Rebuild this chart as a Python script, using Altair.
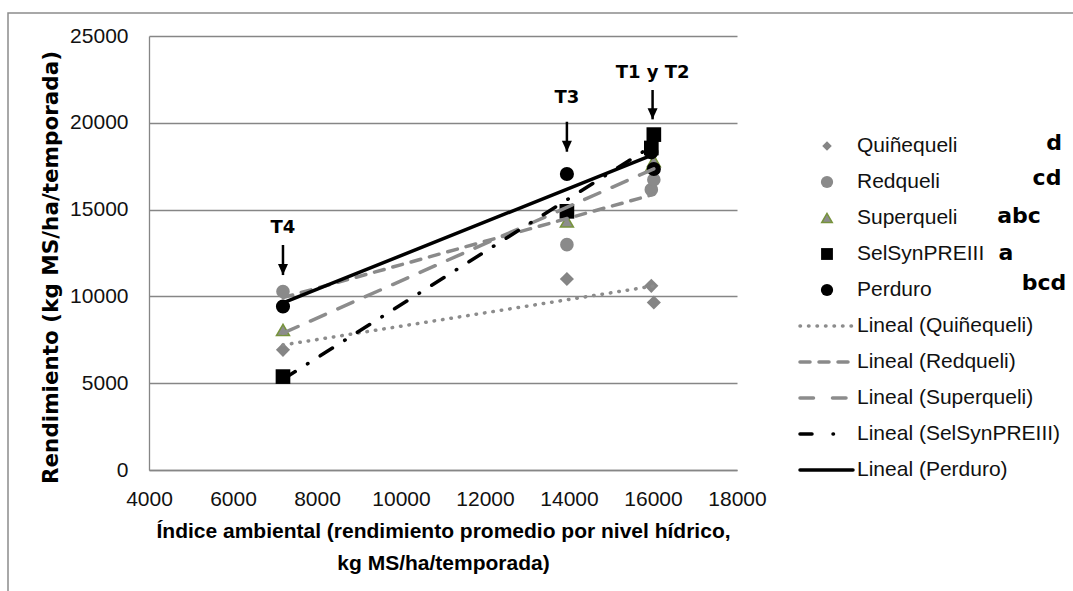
import altair as alt
import pandas as pd

# Environmental index (mean yield per water level, kg MS/ha/season)
environments = ["T4", "T3", "T1", "T2"]
env_index = [7190, 13950, 15960, 16020]

varieties = ["Quiñequeli", "Redqueli", "Superqueli", "SelSynPREIII", "Perduro"]
group_letters = ["d", "cd", "abc", "a", "bcd"]

# Yield of each variety in T4, T3, T1, T2 (kg MS/ha/season)
yield_quinequeli = [6920, 11000, 10610, 9650]
yield_redqueli = [10280, 12980, 16150, 16720]
yield_superqueli = [8070, 14320, 17460, 17800]
yield_selsyn = [5380, 14900, 18550, 19320]
yield_perduro = [9420, 17050, 18300, 17340]

# Environment callouts: label, x, label baseline, arrow top, arrow tip (data units)
callout_labels = ["T4", "T3", "T1 y T2"]
callout_x = [7190, 13950, 15990]
callout_text_y = [13670, 21120, 22580]
callout_arrow_top = [12960, 20060, 21890]
callout_arrow_tip = [11230, 18335, 20200]

x_ticks = [4000, 6000, 8000, 10000, 12000, 14000, 16000, 18000]
y_ticks = [0, 5000, 10000, 15000, 20000, 25000]

series = [yield_quinequeli, yield_redqueli, yield_superqueli, yield_selsyn, yield_perduro]
rows = []
for v, ys in zip(varieties, series):
    for e, x, y in zip(environments, env_index, ys):
        rows.append({"variety": v, "env": e, "index": x, "yield": y})
df = pd.DataFrame(rows)

callout_text = pd.DataFrame({"label": callout_labels, "index": callout_x, "yield": callout_text_y})
callout_arrow = pd.DataFrame({"index": callout_x, "yield": callout_arrow_top, "tip": callout_arrow_tip})
callout_head = pd.DataFrame({"index": callout_x, "yield": callout_arrow_tip})

GRAY = "#868686"
W, H = 588, 434
PAD_L, PAD_T = 149, 36

# marker and trendline styles per variety
styles = {
    "Quiñequeli": dict(shape="diamond", fill="#858585", stroke=None, size=200, lsize=90,
                       line="#8c8c8c", dash=[0.5, 8], ldash=[0.5, 8]),
    "Redqueli": dict(shape="circle", fill="#8a8a8a", stroke=None, size=185, lsize=150,
                     line="#8a8a8a", dash=[10, 9], ldash=[10, 9]),
    "Superqueli": dict(shape="triangle-up", fill="#8c8c8c", stroke="#77933C", size=170, lsize=110,
                       line="#8c8c8c", dash=[16.5, 13.5], ldash=[13.5, 19]),
    "SelSynPREIII": dict(shape="square", fill="#000000", stroke=None, size=215, lsize=140,
                         line="#000000", dash=[14.5, 14.5, 0.5, 14.5], ldash=[12, 21, 0.5, 60]),
    "Perduro": dict(shape="circle", fill="#000000", stroke=None, size=200, lsize=150,
                    line="#000000", dash=None, ldash=None),
}

x_enc = alt.X(
    "index:Q",
    scale=alt.Scale(domain=[4000, 18000], nice=False, zero=False),
    axis=alt.Axis(
        values=x_ticks, format="d", grid=False, ticks=False, labelOverlap=False, labelFlush=False,
        domainColor=GRAY, domainWidth=1.3,
        labelFont="Liberation Sans", labelFontSize=21, labelColor="#111111", labelPadding=18,
        title=["Índice ambiental (rendimiento promedio por nivel hídrico,", "kg MS/ha/temporada)"],
        titleFont="Liberation Sans", titleFontWeight="bold", titleFontSize=21,
        titleLineHeight=32, titleColor="#000000",
        titleX=W / 2, titleY=67, titleAlign="center", titleBaseline="alphabetic",
    ),
)
y_enc = alt.Y(
    "yield:Q",
    scale=alt.Scale(domain=[0, 25000], nice=False),
    axis=alt.Axis(
        values=y_ticks, format="d", grid=True, gridColor=GRAY, gridWidth=1.3, ticks=False,
        labelOverlap=False, labelFlush=False, domainColor=GRAY, domainWidth=1.3,
        labelFont="Liberation Sans", labelFontSize=21, labelColor="#111111", labelPadding=21,
        title="Rendimiento (kg MS/ha/temporada)",
        titleFont="DejaVu Sans", titleFontWeight="bold", titleFontSize=21.5, titleColor="#000000",
        titleAngle=270, titleX=-98, titleY=231, titleAlign="center", titleBaseline="middle",
    ),
)

one = pd.DataFrame({"k": [0]})
layers = []

# observed yields
for v in varieties:
    s = styles[v]
    kw = dict(shape=s["shape"], filled=True, fill=s["fill"], size=s["size"], opacity=1)
    if s["stroke"]:
        kw.update(stroke=s["stroke"], strokeWidth=1.5)
    else:
        kw.update(strokeWidth=0)
    layers.append(
        alt.Chart(df).transform_filter(alt.datum.variety == v).mark_point(**kw).encode(x=x_enc, y=y_enc)
    )

# linear trendlines
for v in varieties:
    s = styles[v]
    kw = dict(color=s["line"], strokeWidth=3.5, strokeCap="round")
    if s["dash"]:
        kw["strokeDash"] = s["dash"]
    layers.append(
        alt.Chart(df)
        .transform_filter(alt.datum.variety == v)
        .transform_regression("index", "yield", method="linear")
        .mark_line(**kw)
        .encode(x=x_enc, y=y_enc)
    )

# environment callouts with arrows
layers.append(
    alt.Chart(callout_text).mark_text(
        font="DejaVu Sans", fontWeight="bold", fontSize=18, align="center", baseline="alphabetic", color="#000"
    ).encode(x=x_enc, y=y_enc, text="label:N")
)
layers.append(
    alt.Chart(callout_arrow).mark_rule(color="#000", strokeWidth=2.5).encode(x=x_enc, y=y_enc, y2="tip:Q")
)
layers.append(
    alt.Chart(callout_head).mark_point(
        shape="M-1,-2.2L1,-2.2L0,0Z", filled=True, color="#000", size=100, opacity=1
    ).encode(x=x_enc, y=y_enc)
)

# outer frame of the figure
layers.append(
    alt.Chart(one).mark_rect(fillOpacity=0, stroke="#8c8c8c", strokeWidth=1.5).encode(
        x=alt.value(8 - PAD_L), x2=alt.value(1100), y=alt.value(13 - PAD_T), y2=alt.value(620)
    )
)

# legend
LEG_SYM_X = 827 - PAD_L
LEG_TXT_X = 857 - PAD_L
LEG_LINE_X0, LEG_LINE_X1 = 800 - PAD_L, 853 - PAD_L
LEG_Y0, LEG_STEP = 146 - PAD_T, 36
letter_pos = [(1054, 150), (1047, 185), (1019, 223), (1006, 260), (1044, 290)]

legend_font = dict(font="Liberation Sans", fontSize=21, color="#111111", align="left", baseline="middle")
for i, v in enumerate(varieties):
    s = styles[v]
    yy = LEG_Y0 + LEG_STEP * i
    kw = dict(shape=s["shape"], filled=True, fill=s["fill"], size=s["lsize"], opacity=1)
    if s["stroke"]:
        kw.update(stroke=s["stroke"], strokeWidth=1.5)
    else:
        kw.update(strokeWidth=0)
    layers.append(alt.Chart(one).mark_point(**kw).encode(x=alt.value(LEG_SYM_X), y=alt.value(yy)))
    layers.append(
        alt.Chart(one).mark_text(text=v, **legend_font).encode(x=alt.value(LEG_TXT_X), y=alt.value(yy))
    )
    lx, ly = letter_pos[i]
    layers.append(
        alt.Chart(one).mark_text(
            text=group_letters[i], font="DejaVu Sans", fontWeight="bold", fontSize=22,
            align="center", baseline="alphabetic", color="#000"
        ).encode(x=alt.value(lx - PAD_L), y=alt.value(ly - PAD_T))
    )

for i, v in enumerate(varieties):
    s = styles[v]
    yy = LEG_Y0 + LEG_STEP * (i + 5)
    kw = dict(color=s["line"], strokeWidth=3.5, strokeCap="round")
    if s["ldash"]:
        kw["strokeDash"] = s["ldash"]
    layers.append(
        alt.Chart(one).mark_rule(**kw).encode(
            x=alt.value(LEG_LINE_X0), x2=alt.value(LEG_LINE_X1), y=alt.value(yy)
        )
    )
    layers.append(
        alt.Chart(one).mark_text(text=f"Lineal ({v})", **legend_font).encode(
            x=alt.value(LEG_TXT_X), y=alt.value(yy)
        )
    )

chart = (
    alt.layer(*layers)
    .properties(
        width=W, height=H,
        autosize=alt.AutoSizeParams(type="none"),
        padding={"left": PAD_L, "top": PAD_T, "right": 1073 - PAD_L - W, "bottom": 591 - PAD_T - H},
        background="#ffffff",
    )
    .configure_view(stroke=None)
)

chart.save("out.html", embed_options={"renderer": "svg", "actions": False})
